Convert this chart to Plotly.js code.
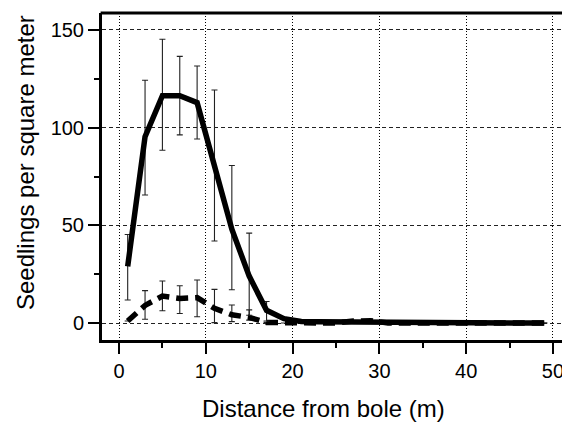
<!DOCTYPE html>
<html>
<head>
<meta charset="utf-8">
<script src="https://cdn.plot.ly/plotly-3.0.1.min.js"></script>
<style>html,body{margin:0;padding:0;background:#fff;}#chart{width:562px;height:422px;}</style>
</head>
<body>
<div id="chart"></div>
<script>
// Distance from bole (m)
const distance = [1,3,5,7,9,11,13,15,17,19,21,23,25,27,29,31,33,35,37,39,41,43,45,47,49];

// Solid series: mean and error-bar bounds (upper / lower)
const solidMean  = [29,95.4,116.4,116.4,112.8,81,48,24,6.5,2.2,0.8,0.6,0.5,0.4,0.3,0.2,0.1,0,0,0,0,0,0,0,0];
const solidUpper = [45.3,124.3,145.3,136.5,131.6,119.3,80.6,46,11,2.2,0.8,0.6,0.5,0.4,0.3,0.2,0.1,0,0,0,0,0,0,0,0];
const solidLower = [11.8,65.5,88.4,96.3,94.2,42,17,4,1,2.2,0.8,0.6,0.5,0.4,0.3,0.2,0.1,0,0,0,0,0,0,0,0];

// Dashed series: mean and error-bar bounds
const dashedMean  = [1,9,13.8,12.6,13,7.5,4.2,2.9,0.3,0,0,0,0,1,1.2,0,0,0,0,0,0,0,0,0,0];
const dashedUpper = [1,16.6,21.5,19.1,22,17.2,9.2,6.7,0.3,0,0,0,0,1,1.2,0,0,0,0,0,0,0,0,0,0];
const dashedLower = [1,1.9,6.3,4.9,3.2,0.2,0.7,1.5,0.3,0,0,0,0,1,1.2,0,0,0,0,0,0,0,0,0,0];

const xTicks = [0,10,20,30,40,50];
const yTicks = [0,50,100,150];
const xTitle = 'Distance from bole (m)';
const yTitle = 'Seedlings per square meter';

const plus = (u, m) => u.map((v, i) => v - m[i]);
const minus = (l, m) => m.map((v, i) => v - l[i]);

const errStyle = {type:'data', symmetric:false, color:'#222', thickness:1.1, width:3};

const traces = [
  {
    x: distance, y: dashedMean, type:'scatter', mode:'lines', name:'dashed',
    line:{color:'#000', width:5.5, dash:'12px,7px'},
    error_y: Object.assign({array: plus(dashedUpper, dashedMean), arrayminus: minus(dashedLower, dashedMean)}, errStyle)
  },
  {
    x: distance, y: solidMean, type:'scatter', mode:'lines', name:'solid',
    line:{color:'#000', width:5.5},
    error_y: Object.assign({array: plus(solidUpper, solidMean), arrayminus: minus(solidLower, solidMean)}, errStyle)
  }
];

const font = {family:'"Liberation Sans", Arial, sans-serif', color:'#000'};

const layout = {
  width:562, height:422,
  margin:{l:102, r:0, t:13, b:82},
  paper_bgcolor:'#fff', plot_bgcolor:'#fff',
  showlegend:false,
  font: Object.assign({size:20}, font),
  xaxis:{
    range:[-1.96, 51.04],
    tickvals: xTicks, ticktext: xTicks.map(String),
    ticks:'outside', ticklen:11, tickwidth:2, tickcolor:'#000',
    minor:{dtick:5, tick0:0, ticks:'outside', ticklen:5, tickwidth:2, tickcolor:'#000', showgrid:false},
    showline:true, linewidth:2.5, linecolor:'#000', mirror:false,
    showgrid:true, gridcolor:'#000', gridwidth:1, griddash:'1px,2px',
    zeroline:false, ticklabeloverflow:'allow',
    tickfont: Object.assign({size:20}, font)
  },
  yaxis:{
    range:[-8.7, 158.7],
    tickvals: yTicks, ticktext: yTicks.map(String),
    ticks:'outside', ticklen:11, tickwidth:2, tickcolor:'#000',
    minor:{dtick:25, tick0:0, ticks:'outside', ticklen:5, tickwidth:2, tickcolor:'#000', showgrid:false},
    showline:true, linewidth:3, linecolor:'#000', mirror:false,
    showgrid:true, gridcolor:'#222', gridwidth:1, griddash:'4px,3px',
    zeroline:false,
    tickfont: Object.assign({size:20}, font)
  },
  shapes:[
    {type:'line', xref:'paper', yref:'paper', x0:-0.003, x1:1, y0:1, y1:1, line:{color:'#000', width:3}}
  ],
  annotations:[
    {text:xTitle, xref:'paper', yref:'paper', x:0.4826, y:-0.208, xanchor:'center', yanchor:'middle',
     showarrow:false, font:Object.assign({size:24}, font)},
    {text:yTitle, xref:'paper', yref:'paper', x:-0.1674, y:0.5443, xanchor:'center', yanchor:'middle',
     textangle:-90, showarrow:false, font:Object.assign({size:24}, font)}
  ]
};

Plotly.newPlot('chart', traces, layout, {staticPlot:true, displayModeBar:false});
</script>
</body>
</html>
